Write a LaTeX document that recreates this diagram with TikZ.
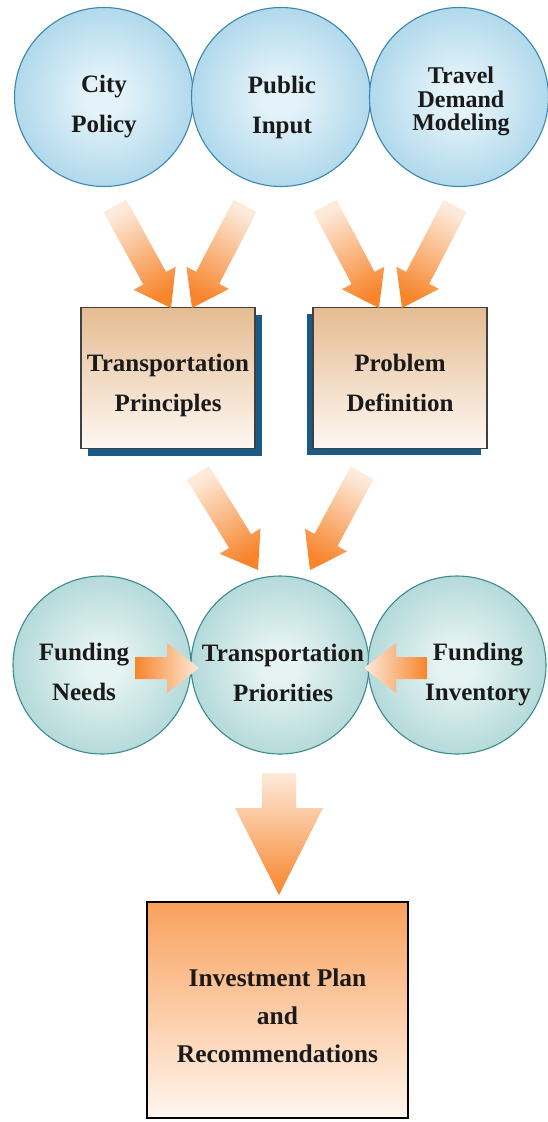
\documentclass[tikz,border=0pt]{standalone}
\usepackage{fontspec}
\setmainfont{Liberation Serif}
\usetikzlibrary{calc,shadings,shadows}

\definecolor{cirA}{HTML}{86C2DE}
\definecolor{cirAmid}{HTML}{A9D5EA}
\definecolor{cirAin}{HTML}{E4F3F9}
\definecolor{cirAbd}{HTML}{3A88B0}
\definecolor{cirB}{HTML}{8AC2C3}
\definecolor{cirBmid}{HTML}{AED6D6}
\definecolor{cirBin}{HTML}{E6F3F3}
\definecolor{cirBbd}{HTML}{3B8C90}
\definecolor{orng}{HTML}{F7852C}
\definecolor{pale}{HTML}{FDEADB}
\definecolor{boxtan}{HTML}{E6BC92}
\definecolor{boxlow}{HTML}{FDF8F3}
\definecolor{ibtop}{HTML}{F9A15D}
\definecolor{iblow}{HTML}{FFF6EF}
\definecolor{shad}{HTML}{1C5A86}
\definecolor{ink}{HTML}{1A1A1A}

\pgfdeclareradialshading{radA}{\pgfpoint{0bp}{0bp}}{color(0bp)=(cirAin); color(5bp)=(cirAin); color(28bp)=(cirAmid); color(50bp)=(cirA); color(100bp)=(cirA)}
\pgfdeclareradialshading{radB}{\pgfpoint{0bp}{0bp}}{color(0bp)=(cirBin); color(5bp)=(cirBin); color(28bp)=(cirBmid); color(50bp)=(cirB); color(100bp)=(cirB)}

\newcommand{\dglbl}{\fontsize{25}{40}\selectfont\bfseries}
\newcommand{\dgtight}{\fontsize{24}{23.5}\selectfont\bfseries}
\newcommand{\dgbig}{\fontsize{25.5}{38}\selectfont\bfseries}

% #1 style, #2 tail, #3 tip, #4 half shaft width, #5 half head width, #6 head length
\newcommand{\fatarrow}[6]{%
  \coordinate (fah) at ($(#3)!#6!(#2)$);
  \path[#1] ($(#2)!#4!90:(#3)$) -- ($(fah)!#4!-90:(#2)$) -- ($(fah)!#5!-90:(#2)$)
    -- (#3) -- ($(fah)!#5!90:(#2)$) -- ($(fah)!#4!90:(#2)$) -- ($(#2)!#4!-90:(#3)$) -- cycle;}

\tikzset{
  topcirc/.style={circle, draw=cirAbd, line width=1.1pt, shading=radA, minimum size=179pt, inner sep=0pt},
  midcirc/.style={circle, draw=cirBbd, line width=1.1pt, shading=radB, minimum size=178pt, inner sep=0pt},
  lbl/.style={align=center, font=\dglbl, text=ink, inner sep=0pt},
  tbox/.style={rectangle, draw=black!75, line width=1.2pt, top color=boxtan, bottom color=boxlow,
    minimum width=174pt, minimum height=141pt, inner sep=0pt},
  ibox/.style={rectangle, draw=black, line width=2pt, top color=ibtop, bottom color=iblow,
    minimum width=261pt, minimum height=216pt, inner sep=0pt},
  diagarrow/.style={top color=pale, bottom color=orng, shading angle=#1},
}

\begin{document}
\begin{tikzpicture}[x=1pt,y=-1pt]
\useasboundingbox (0,0) rectangle (548,1122);
\fill[white] (0,0) rectangle (548,1122);

% top circles
\node[topcirc] (city) at (104,97) {};
\node[topcirc] (pub) at (281,97) {};
\node[topcirc] (tdm) at (459,97) {};
\node[lbl] (cityt) at (104,107) {City\\Policy};
\node[lbl] (pubt) at (282,107) {Public\\Input};
\node[lbl, font=\dgtight] (tdmt) at (461,101.5) {Travel\\Demand\\Modeling};

% boxes
\node[tbox, drop shadow={shadow xshift=7pt, shadow yshift=-7pt, fill=shad, opacity=1}] (tp) at (168,378) {};
\node[tbox, drop shadow={shadow xshift=-6pt, shadow yshift=-6pt, fill=shad, opacity=1}] (pd) at (400,378) {};
\node[lbl] (tpt) at (168,385.5) {Transportation\\Principles};
\node[lbl] (pdt) at (400,382.5) {Problem\\Definition};

% middle circles
\node[midcirc] (fn) at (102,665) {};
\node[midcirc] (tpr) at (280,665) {};
\node[midcirc] (fi) at (457,665) {};
\node[lbl] (fnt) at (84,672) {Funding\\Needs};
\node[lbl] (tprt) at (283,673) {Transportation\\Priorities};
\node[lbl] (fit) at (478,675) {Funding\\Inventory};

% bottom box
\node[ibox] (ip) at (277.5,1010) {};
\node[lbl, font=\dgbig] (ipt) at (277.5,1016) {Investment Plan\\and\\Recommendations};

% arrow end points
\coordinate (a1t) at (115,206); \coordinate (a1h) at (171,308);
\coordinate (a2t) at (245,206); \coordinate (a2h) at (192,308);
\coordinate (a3t) at (325,206); \coordinate (a3h) at (379,308);
\coordinate (a4t) at (455,206); \coordinate (a4h) at (402,308);
\coordinate (b1t) at (198,473); \coordinate (b1h) at (258,570);
\coordinate (b2t) at (362,473); \coordinate (b2h) at (310,570);
\coordinate (c1t) at (135,668); \coordinate (c1h) at (199,668);
\coordinate (c2t) at (427,668); \coordinate (c2h) at (364,668);
\coordinate (d1t) at (279,773); \coordinate (d1h) at (279,895);

\fatarrow{diagarrow=29}{a1t}{a1h}{13pt}{24pt}{34pt}
\fatarrow{diagarrow=-27}{a2t}{a2h}{13pt}{24pt}{34pt}
\fatarrow{diagarrow=28}{a3t}{a3h}{13pt}{24pt}{34pt}
\fatarrow{diagarrow=-27}{a4t}{a4h}{13pt}{24pt}{34pt}
\fatarrow{diagarrow=31}{b1t}{b1h}{13pt}{24pt}{34pt}
\fatarrow{diagarrow=-28}{b2t}{b2h}{13pt}{24pt}{34pt}
\fatarrow{left color=orng, right color=pale}{c1t}{c1h}{11pt}{25pt}{32pt}
\fatarrow{left color=pale, right color=orng}{c2t}{c2h}{11pt}{25pt}{32pt}
\fatarrow{top color=pale, bottom color=orng}{d1t}{d1h}{17pt}{44pt}{87pt}
\end{tikzpicture}
\end{document}
